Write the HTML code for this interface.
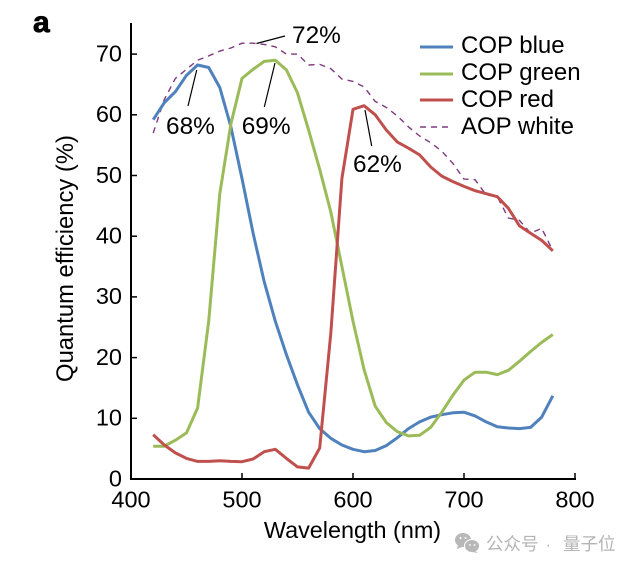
<!DOCTYPE html>
<html lang="en">
<head>
<meta charset="utf-8">
<title>Quantum efficiency chart</title>
<style>
html,body{margin:0;padding:0;background:#fff;width:638px;height:570px;overflow:hidden}
svg{display:block}
text{font-family:"Liberation Sans","Noto Sans CJK SC",sans-serif;fill:#000}
</style>
</head>
<body>
<svg id="chart" width="638" height="570" viewBox="0 0 638 570" xmlns="http://www.w3.org/2000/svg">
  <text x="33" y="32" font-size="30" font-weight="700" stroke="#000" stroke-width="0.8">a</text>
  <g id="marks"></g>
  <g id="axes"></g>
  <text transform="translate(73,258.5) rotate(-90)" text-anchor="middle" font-size="23.8">Quantum efficiency (%)</text>
  <text x="352.5" y="538" text-anchor="middle" font-size="23.4">Wavelength (nm)</text>

  <g>
    <line x1="256.5" y1="43.5" x2="285" y2="36" stroke="#000" stroke-width="1.2"/>
    <text x="292" y="43" font-size="24.4">72%</text>
  </g>
  <g>
    <line x1="196.7" y1="70" x2="188" y2="106" stroke="#000" stroke-width="1.2"/>
    <text x="166" y="134" font-size="24.4">68%</text>
  </g>
  <g>
    <line x1="275" y1="63" x2="264.3" y2="107" stroke="#000" stroke-width="1.2"/>
    <text x="241.7" y="134" font-size="24.4">69%</text>
  </g>
  <g>
    <line x1="365" y1="110" x2="371.7" y2="146" stroke="#000" stroke-width="1.2"/>
    <text x="353" y="172" font-size="24.4">62%</text>
  </g>

  <g>
    <g>
      <line x1="420" y1="47" x2="453" y2="47" stroke="#4f81bd" stroke-width="3"/>
      <text x="461" y="53" font-size="24">COP blue</text>
    </g>
    <g>
      <line x1="420" y1="74" x2="453" y2="74" stroke="#9bbb59" stroke-width="3"/>
      <text x="461" y="80" font-size="24">COP green</text>
    </g>
    <g>
      <line x1="420" y1="100" x2="453" y2="100" stroke="#c0504d" stroke-width="3"/>
      <text x="461" y="107" font-size="24">COP red</text>
    </g>
    <g>
      <line x1="420" y1="127" x2="453" y2="127" stroke="#7e3a80" stroke-width="1.4" stroke-dasharray="6 5"/>
      <text x="461" y="134" font-size="24">AOP white</text>
    </g>
  </g>

  <g>
    <g>
      <ellipse cx="463" cy="540" rx="8" ry="7" fill="#b8b8b8"/>
      <path d="M458 545 l-1 4 5 -2z" fill="#b8b8b8"/>
      <ellipse cx="472" cy="546" rx="7.500" ry="6.500" fill="#b8b8b8" stroke="#fff" stroke-width="1"/>
      <path d="M475 551 l3 2 -6 -1z" fill="#b8b8b8"/>
      <circle cx="460.500" cy="538" r="1" fill="#fff"/>
      <circle cx="465.500" cy="538" r="1" fill="#fff"/>
      <circle cx="470" cy="545" r="0.900" fill="#fff"/>
      <circle cx="474.500" cy="545" r="0.900" fill="#fff"/>
    </g>
    <text x="486" y="550" font-size="17.500" style="fill:#b4b4b4">公众号</text>
    <text x="545.500" y="550" font-size="17" style="fill:#b4b4b4">·</text>
    <text x="563" y="550" font-size="17.500" style="fill:#b4b4b4">量子位</text>
  </g>
</svg>
<script>
const wavelengths = [420,430,440,450,460,470,480,490,500,510,520,530,540,550,560,570,580,590,600,610,620,630,640,650,660,670,680,690,700,710,720,730,740,750,760,770,780];
const copBlue = [59.2,62,63.8,66.5,68.2,67.8,64.5,58,49.5,40.5,32.5,26,20.5,15.5,11,8.3,6.7,5.6,4.9,4.5,4.7,5.5,6.8,8.3,9.4,10.2,10.6,10.9,11,10.4,9.4,8.6,8.4,8.3,8.5,10.2,13.7];
const copGreen = [5.4,5.4,6.4,7.6,11.7,26,47,58.5,66,67.5,68.8,69,67.4,63.6,57.5,51,44,35,26,18,12,9.3,7.8,7.1,7.2,8.5,11,13.8,16.3,17.6,17.6,17.2,17.9,19.4,21,22.5,23.8];
const copRed = [7.3,5.6,4.3,3.4,2.9,2.9,3,2.9,2.85,3.3,4.5,4.9,3.4,2,1.8,5.1,24,49.5,60.9,61.5,60,57.5,55.5,54.5,53.4,51.4,49.9,49,48.2,47.5,47,46.5,44.6,41.7,40.5,39.3,37.6];
const aopWhite = [57,62.5,66,67.5,69,69.7,70.5,71,71.8,71.8,71.6,71.2,70,70,68.2,68.3,67.6,65.9,65.5,64.6,62.2,61.2,59.8,58,56.5,55.4,54,52,49.4,49.3,46.8,46.5,43,42.6,40.5,41.3,37.6];
const xTicks = [400,500,600,700,800];
const yTicks = [0,10,20,30,40,50,60,70];

const SVG_NS = 'http://www.w3.org/2000/svg';
const xScale = function (w) { return 131 + (w - 400) * 1.11; };
const yScale = function (v) { return 479 - v * 6.07; };

const marks = document.getElementById('marks');
const axes = document.getElementById('axes');

function makeSeries(values, color, width, dash) {
  const el = document.createElementNS(SVG_NS, 'polyline');
  const pts = values.map(function (v, i) {
    return xScale(wavelengths[i]).toFixed(1) + ',' + yScale(v).toFixed(1);
  }).join(' ');
  el.setAttribute('points', pts);
  el.setAttribute('fill', 'none');
  el.setAttribute('stroke', color);
  el.setAttribute('stroke-width', width);
  el.setAttribute('stroke-linejoin', 'round');
  if (dash) el.setAttribute('stroke-dasharray', dash);
  return el;
}

const whiteLine = makeSeries(aopWhite, '#7e3a80', 1.4, '6 5');


marks.appendChild(whiteLine);

const blueLine = makeSeries(copBlue, '#4f81bd', 3);


marks.appendChild(blueLine);

const greenLine = makeSeries(copGreen, '#9bbb59', 3);


marks.appendChild(greenLine);

const redLine = makeSeries(copRed, '#c0504d', 3);


marks.appendChild(redLine);

function makeLine(x1, y1, x2, y2, w) {
  const el = document.createElementNS(SVG_NS, 'line');
  el.setAttribute('x1', x1);
  el.setAttribute('y1', y1);
  el.setAttribute('x2', x2);
  el.setAttribute('y2', y2);
  el.setAttribute('stroke', '#000');
  el.setAttribute('stroke-width', w);
  return el;
}

function makeLabel(x, y, anchor, str) {
  const el = document.createElementNS(SVG_NS, 'text');
  el.setAttribute('x', x);
  el.setAttribute('y', y);
  el.setAttribute('text-anchor', anchor);
  el.setAttribute('font-size', '23.5');
  el.textContent = str;
  return el;
}

const yAxisLine = makeLine(131, 23, 131, 480, 2);


axes.appendChild(yAxisLine);

const xAxisLine = makeLine(130, 479, 576, 479, 2);


axes.appendChild(xAxisLine);

yTicks.forEach(function (t) {
  const y = yScale(t);
  const tick = makeLine(131, y, 137, y, 1.5);
  
  
  axes.appendChild(tick);
  const label = makeLabel(122, y + 7.3, 'end', String(t));
  
  
  axes.appendChild(label);
});

xTicks.forEach(function (t) {
  const x = xScale(t);
  const tick = makeLine(x, 479, x, 473, 1.5);
  
  
  axes.appendChild(tick);
  const label = makeLabel(x, 507.3, 'middle', String(t));
  
  
  axes.appendChild(label);
});
</script>
</body>
</html>
